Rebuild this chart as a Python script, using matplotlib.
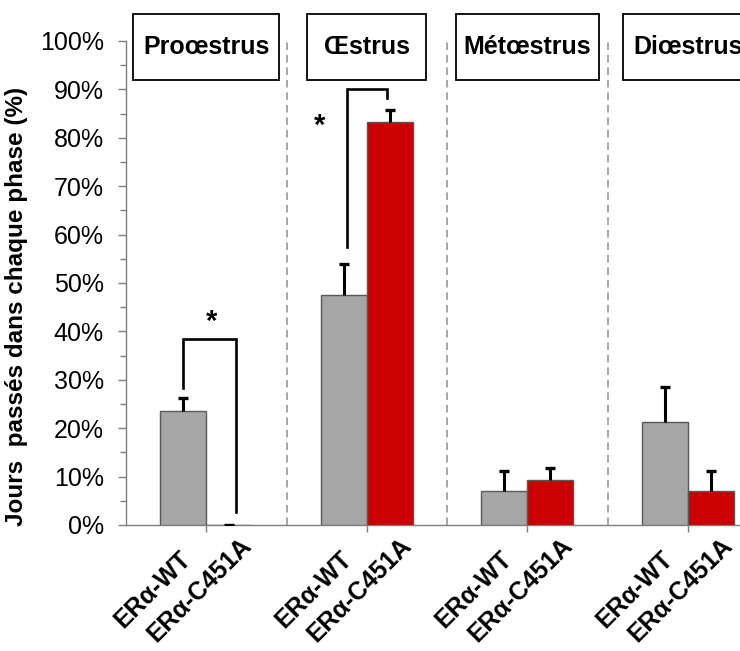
import matplotlib
matplotlib.use("Agg")
import matplotlib.pyplot as plt
from matplotlib.patches import Rectangle
from matplotlib.ticker import MultipleLocator, FuncFormatter

# Cycle phases and genotypes
phases = ["Proœstrus", "Œstrus", "Métœstrus", "Diœstrus"]
genotypes = ["ERα-WT", "ERα-C451A"]

# Percentage of days spent in each phase (mean and SEM)
wt_mean = [23.6, 47.5, 7.1, 21.3]
wt_sem = [2.6, 6.4, 4.1, 7.3]
mut_mean = [0.0, 83.3, 9.4, 7.1]
mut_sem = [0.0, 2.4, 2.4, 4.1]

plt.rcParams["font.family"] = ["Liberation Sans", "DejaVu Sans"]
plt.rcParams["lines.scale_dashes"] = False

W, H, DPI = 740, 651, 100
fig = plt.figure(figsize=(W / DPI, H / DPI), dpi=DPI)
ax = fig.add_axes([126 / W, 1 - 525 / H, (768 - 126) / W, 484 / H])

bw = 0.286
xs = list(range(len(phases)))
gray, red = "#a6a6a6", "#cc0000"
edge = "#595959"

wt_x = [x - bw / 2 for x in xs]
mut_x = [x + bw / 2 for x in xs]
ax.bar(wt_x, wt_mean, width=bw, color=gray, edgecolor=edge, linewidth=1.0, zorder=3)
ax.bar(mut_x, mut_mean, width=bw, color=red, edgecolor=edge, linewidth=1.0, zorder=3)

# Upper error bars only (stem + top cap)
for bx, m, e in list(zip(wt_x, wt_mean, wt_sem)) + list(zip(mut_x, mut_mean, mut_sem)):
    ax.plot([bx, bx], [m, m + e], color="black", lw=2.2, zorder=4,
            solid_capstyle="butt")
    ax.plot([bx], [m + e], marker="_", ms=7.5, mew=2.4, color="black", zorder=4)

# Phase separators
for s in [0.5, 1.5, 2.5]:
    ax.plot([s, s], [0, 100], color="#a0a0a0", lw=1.3, ls=(0, (5.5, 3.5)),
            zorder=1, clip_on=False)

ax.set_xlim(-0.5, 3.5)
ax.set_ylim(0, 100)

ax.yaxis.set_major_locator(MultipleLocator(10))
ax.yaxis.set_minor_locator(MultipleLocator(5))
ax.yaxis.set_major_formatter(FuncFormatter(lambda v, p: f"{v:.0f}%"))
ax.tick_params(axis="y", which="major", length=6, width=1, color="#7f7f7f",
               labelsize=18, pad=10)
ax.tick_params(axis="y", which="minor", length=4, width=1, color="#7f7f7f")

ax.set_xticks(xs)
ax.set_xticklabels([])
ax.tick_params(axis="x", which="major", length=5, width=1, color="#7f7f7f")

for sp in ["top", "right"]:
    ax.spines[sp].set_visible(False)
for sp in ["left", "bottom"]:
    ax.spines[sp].set_color("#7f7f7f")
    ax.spines[sp].set_linewidth(1)

# Rotated genotype labels under each bar
for gi, bx_list in enumerate((wt_x, mut_x)):
    for bx in bx_list:
        ax.annotate(genotypes[gi], xy=(bx, 0), xytext=(-30, -65),
                    textcoords="offset pixels", rotation=45,
                    ha="center", va="center", fontsize=18, fontweight="bold",
                    annotation_clip=False)

# Phase title boxes above the panel
box_w = [0.909, 0.74, 0.89, 0.81]
box_y0, box_y1 = 91.9, 105.6
for x, name, bwid in zip(xs, phases, box_w):
    ax.add_patch(Rectangle((x - bwid / 2, box_y0), bwid, box_y1 - box_y0,
                           facecolor="white", edgecolor="black", lw=1.3,
                           clip_on=False, zorder=5))
    ax.text(x, (box_y0 + box_y1) / 2, name, ha="center", va="center",
            fontsize=18, fontweight="bold", zorder=6, clip_on=False)

# Significance brackets
brackets = [
    # x_left, x_right, y_left, y_right, y_top, star_x, star_y
    (-0.145, 0.185, 28.3, 2.7, 38.4, 0.035, 41.9),
    (0.874, 1.126, 57.5, 88.3, 90.1, 0.708, 82.4),
]
for xl, xr, yl, yr, yt, sx, sy in brackets:
    ax.plot([xl, xl, xr, xr], [yl, yt, yt, yr], color="black", lw=1.9,
            zorder=4, clip_on=False, solid_joinstyle="miter")
    ax.text(sx, sy, "*", ha="center", va="center", fontsize=21,
            fontweight="bold", zorder=6)

fig.text(17 / W, 1 - 306 / H, "Jours  passés dans chaque phase (%)",
         rotation=90, ha="center", va="center", fontsize=17.5,
         fontweight="bold")

fig.savefig("out.png", dpi=DPI)
